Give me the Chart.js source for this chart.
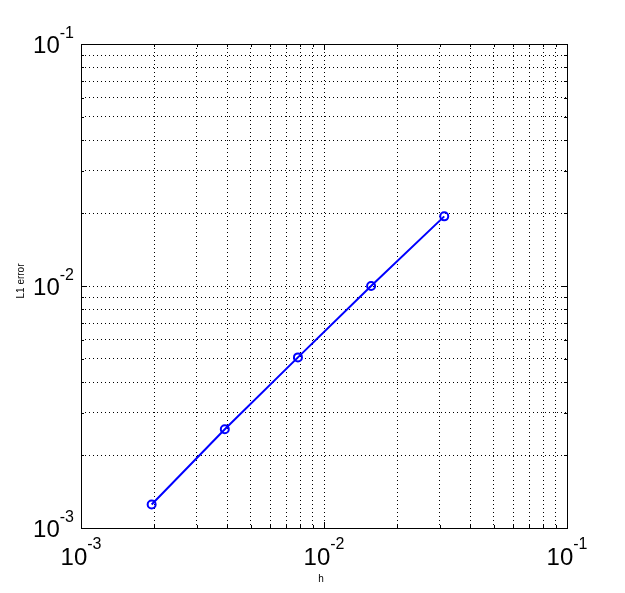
<!DOCTYPE html>
<html>
<head>
<meta charset="utf-8">
<script src="https://cdn.jsdelivr.net/npm/chart.js@4"></script>
<style>
  html, body { margin: 0; padding: 0; background: #fff; }
  #wrap { width: 625px; height: 593px; }
</style>
</head>
<body>
<div id="wrap"><canvas id="myChart" width="625" height="593"></canvas></div>
<script>
// data
var hValues = [1 / 512, 1 / 256, 1 / 128, 1 / 64, 1 / 32];
var l1Errors = [1.25e-3, 2.56e-3, 5.07e-3, 1.0e-2, 1.94e-2];
var majorExponents = [-3, -2, -1];
var xTitle = 'h';
var yTitle = 'L1 error';

// grid at every 1..9 x 10^n between 1e-3 and 1e-1
function logTicks() {
    var t = [];
    for (var e = -3; e < -1; e++) {
        for (var m = 1; m < 10; m++) t.push({ value: m * Math.pow(10, e) });
    }
    t.push({ value: 0.1 });
    return t;
}

var points = hValues.map(function (h, i) { return { x: h, y: l1Errors[i] }; });

var baseFont = '24px "Liberation Sans", Arial, sans-serif';
var expFont = '16px "Liberation Sans", Arial, sans-serif';
var titleFont = '10px "Liberation Sans", Arial, sans-serif';

// frame, inward ticks, power labels and axis titles, MATLAB style
var matlabAxes = {
    id: 'matlabAxes',
    afterDraw: function (chart) {
        var c = chart.ctx, a = chart.chartArea;
        var xs = chart.scales.x, ys = chart.scales.y;
        c.save();
        c.strokeStyle = '#000';
        c.lineWidth = 1;
        // inward tick marks
        c.beginPath();
        xs.ticks.forEach(function (t) {
            var x = Math.round(xs.getPixelForValue(t.value)) + 0.5;
            var major = majorExponents.indexOf(Math.round(Math.log10(t.value) * 1000) / 1000) >= 0;
            var len = major ? 6 : 3;
            c.moveTo(x, a.bottom); c.lineTo(x, a.bottom - len);
            c.moveTo(x, a.top); c.lineTo(x, a.top + len);
        });
        ys.ticks.forEach(function (t) {
            var y = Math.round(ys.getPixelForValue(t.value)) + 0.5;
            var major = majorExponents.indexOf(Math.round(Math.log10(t.value) * 1000) / 1000) >= 0;
            var len = major ? 6 : 3;
            c.moveTo(a.left, y); c.lineTo(a.left + len, y);
            c.moveTo(a.right, y); c.lineTo(a.right - len, y);
        });
        c.stroke();
        // frame
        c.strokeRect(Math.round(a.left) + 0.5, Math.round(a.top) + 0.5,
            Math.round(a.right - a.left), Math.round(a.bottom - a.top));

        // 10^n labels
        c.fillStyle = '#000';
        c.textBaseline = 'alphabetic';
        majorExponents.forEach(function (e) {
            var v = Math.pow(10, e);
            var base = '10', exp = String(e);
            c.font = baseFont;
            var wb = c.measureText(base).width;
            c.font = expFont;
            var we = c.measureText(exp).width;
            // x axis: centred under the tick
            var px = xs.getPixelForValue(v);
            var left = px - (wb + we) / 2;
            c.font = baseFont;
            c.fillText(base, left, a.bottom + 37);
            c.font = expFont;
            c.fillText(exp, left + wb, a.bottom + 21);
            // y axis: right-aligned next to the axis
            var py = ys.getPixelForValue(v);
            var right = a.left - 7;
            c.font = baseFont;
            c.fillText(base, right - we - wb, py + 9);
            c.font = expFont;
            c.fillText(exp, right - we, py - 6);
        });

        // axis titles
        c.font = titleFont;
        c.textAlign = 'center';
        c.fillText(xTitle, 321, a.bottom + 54);
        c.translate(24, 281);
        c.rotate(-Math.PI / 2);
        c.fillText(yTitle, 0, 0);
        c.restore();
    }
};

var ctx = document.getElementById('myChart').getContext('2d');
var myChart = new Chart(ctx, {
    type: 'line',
    data: {
        datasets: [{
            data: points,
            borderColor: '#0000ff',
            borderWidth: 2,
            pointStyle: 'circle',
            pointRadius: 4,
            pointBorderWidth: 2,
            pointBorderColor: '#0000ff',
            pointBackgroundColor: 'rgba(0,0,0,0)',
            fill: false,
            tension: 0
        }]
    },
    options: {
        responsive: false,
        animation: false,
        layout: { padding: { left: 81, top: 44, right: 58, bottom: 65 } },
        plugins: {
            legend: { display: false },
            tooltip: { enabled: false }
        },
        scales: {
            x: {
                type: 'logarithmic',
                min: 1e-3,
                max: 1e-1,
                afterBuildTicks: function (s) { s.ticks = logTicks(); },
                afterFit: function (s) { s.height = 0; },
                ticks: { display: false },
                border: { display: false, dash: [1, 3] },
                grid: { color: '#000', lineWidth: 1, drawTicks: false }
            },
            y: {
                type: 'logarithmic',
                min: 1e-3,
                max: 1e-1,
                afterBuildTicks: function (s) { s.ticks = logTicks(); },
                afterFit: function (s) { s.width = 0; },
                ticks: { display: false },
                border: { display: false, dash: [1, 3] },
                grid: { color: '#000', lineWidth: 1, drawTicks: false }
            }
        }
    },
    plugins: [matlabAxes]
});
</script>
</body>
</html>
